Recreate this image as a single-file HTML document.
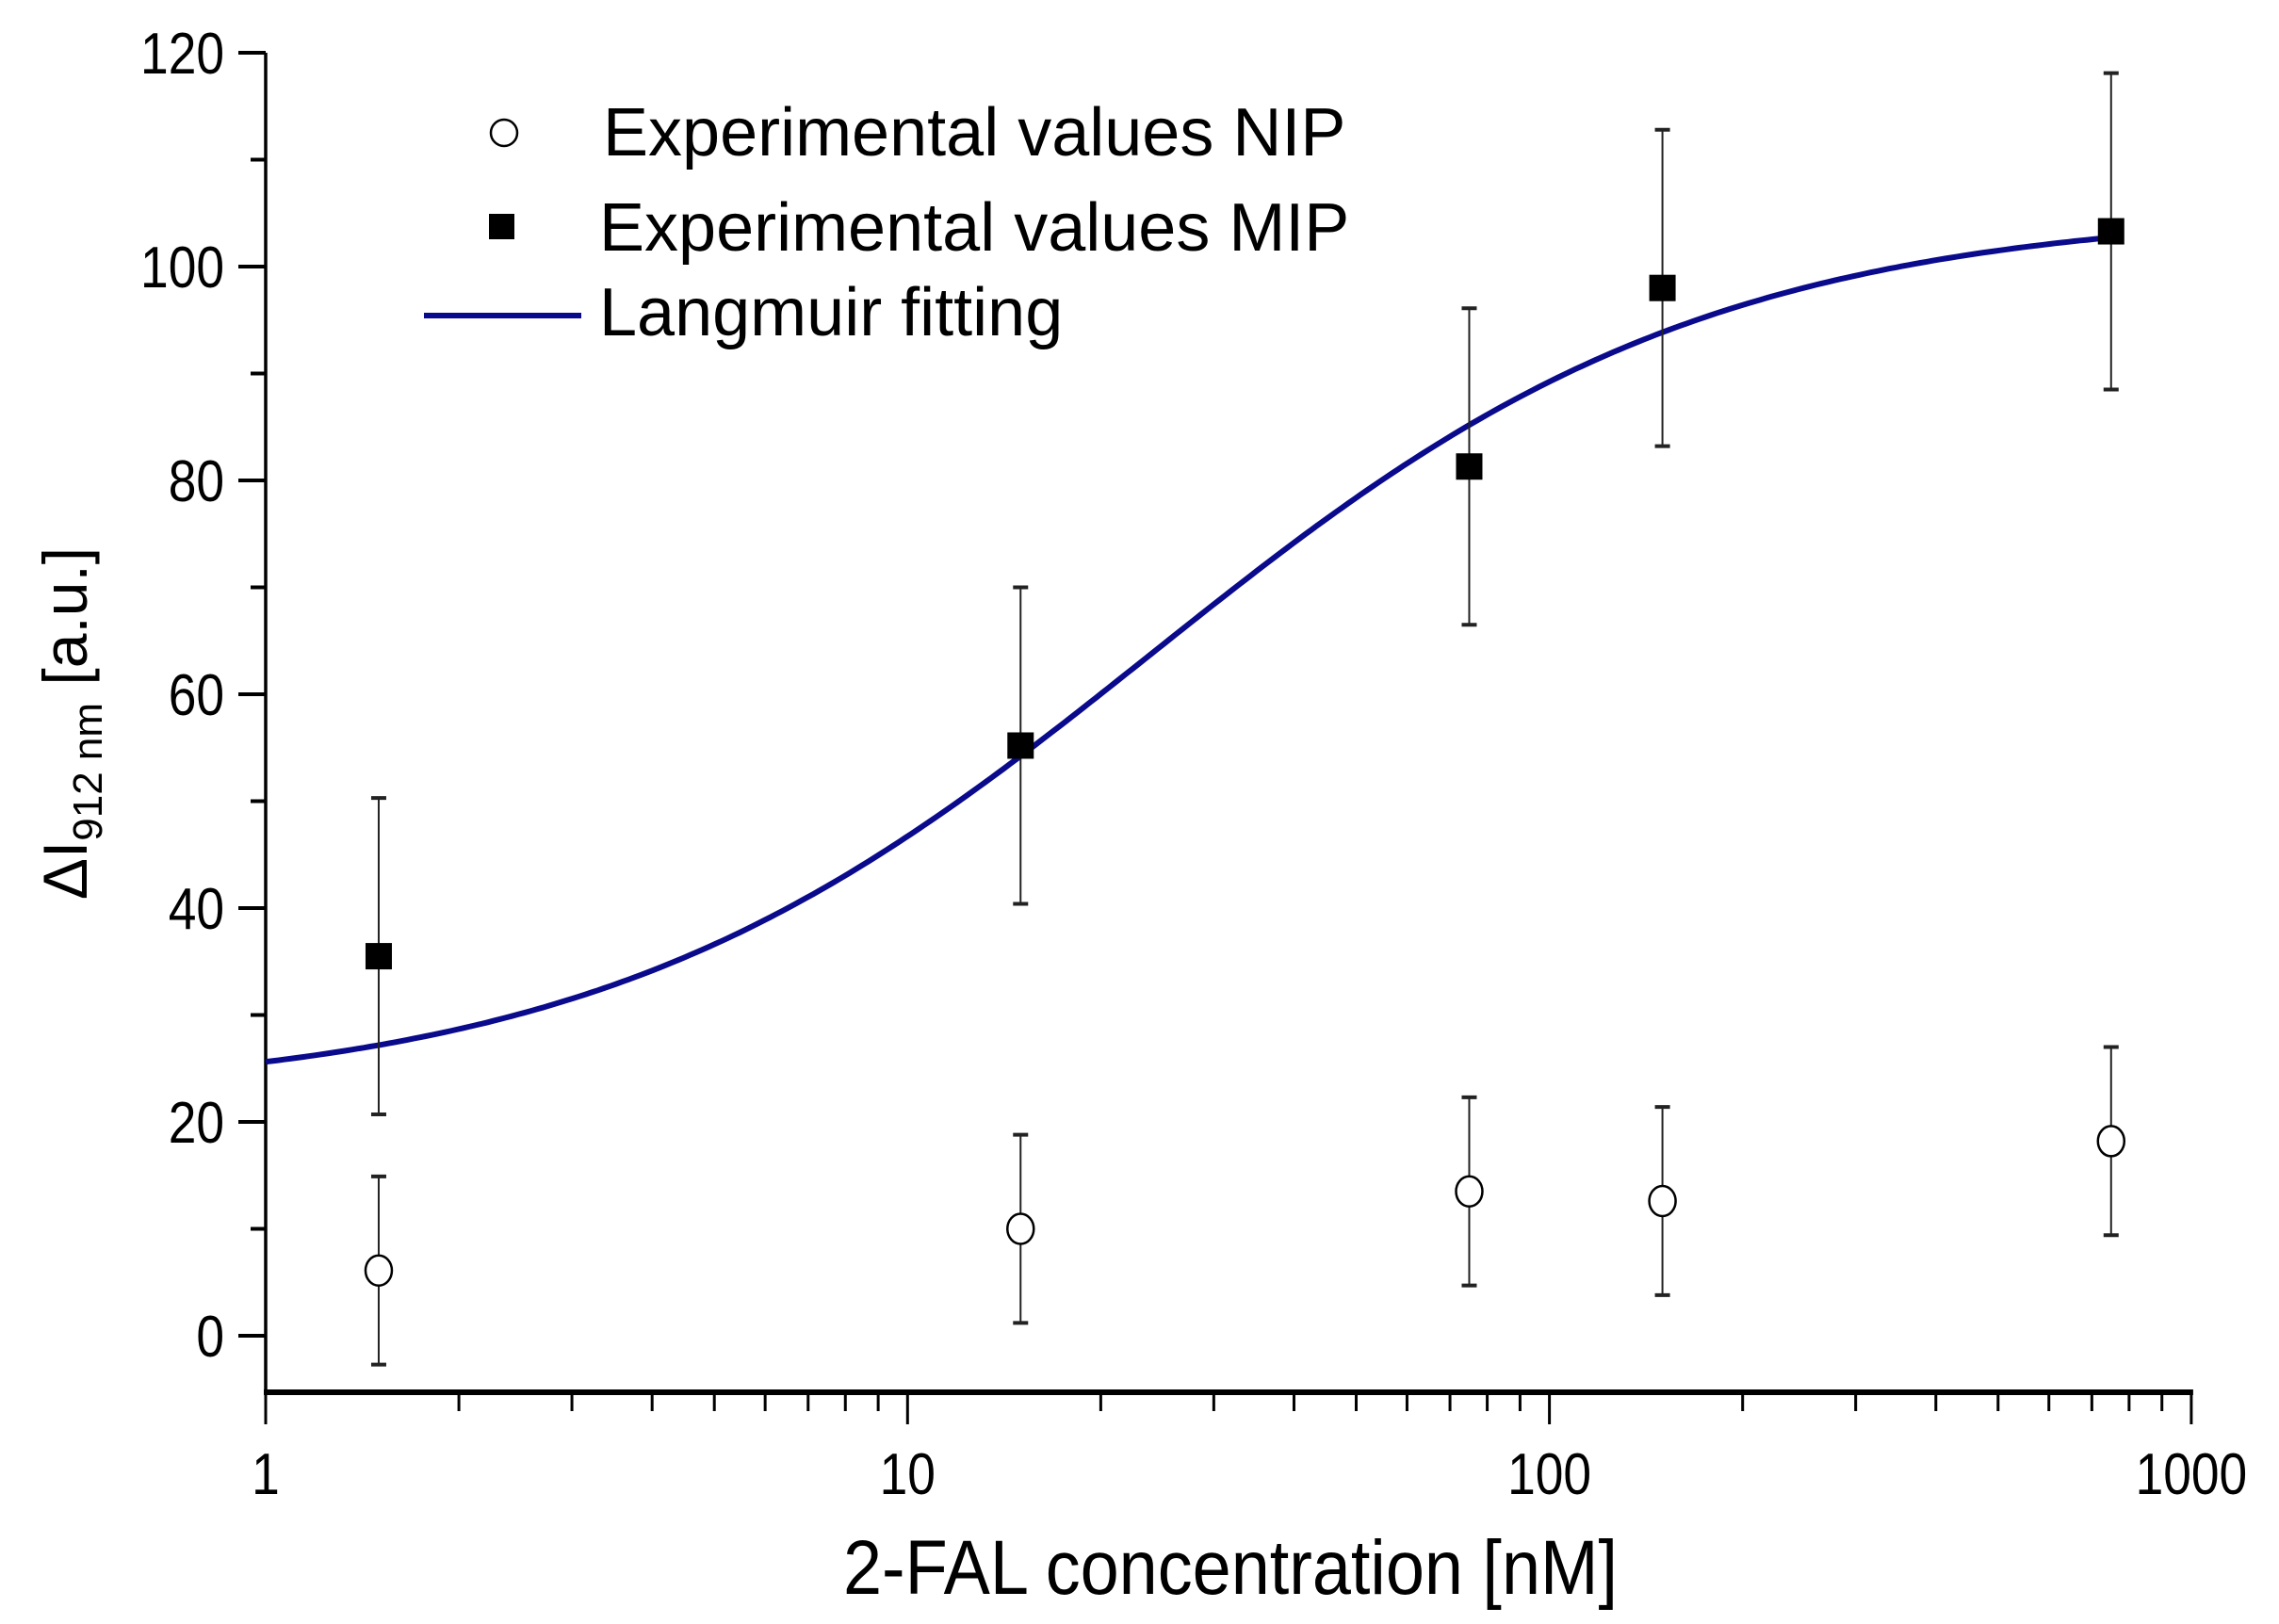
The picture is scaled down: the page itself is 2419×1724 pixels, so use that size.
<!DOCTYPE html>
<html><head><meta charset="utf-8"><style>
html,body{margin:0;padding:0;background:#fff}
svg{display:block}
text{font-family:"Liberation Sans",Arial,sans-serif;fill:#000}
</style></head><body>
<svg id="chart" width="2419" height="1724" viewBox="0 0 2419 1724">
<g id="axes"></g>
<g id="marks"></g>
<g id="legend">
  <circle cx="535" cy="141" r="14" fill="#fff" stroke="#000" stroke-width="2.5"/>
  <text x="640" y="165" font-size="72">Experimental values NIP</text>
  <rect x="519" y="227" width="27" height="27" fill="#000"/>
  <text x="636" y="266" font-size="72">Experimental values MIP</text>
  <line x1="450" y1="335" x2="617" y2="335" stroke="#0a0a8c" stroke-width="6"/>
  <text x="636" y="356" font-size="72">Langmuir fitting</text>
</g>
<text x="1306" y="1692" font-size="82" text-anchor="middle" textLength="822" lengthAdjust="spacingAndGlyphs">2-FAL concentration [nM]</text>
<text transform="translate(92,768) rotate(-90)" font-size="66" text-anchor="middle">ΔI<tspan font-size="44" dy="16">912 nm</tspan><tspan dy="-16"> [a.u.]</tspan></text>
</svg>
<script>
const xCats = [1.5, 15, 75, 150, 750];
const mipValues = [35.5, 55.2, 81.3, 98.0, 103.3];
const mipErrors = [14.8, 14.8, 14.8, 14.8, 14.8];
const nipValues = [6.1, 10.0, 13.5, 12.6, 18.2];
const nipErrors = [8.8, 8.8, 8.8, 8.8, 8.8];
const fitParams = [22.3, 83, 24];
const fitRange = [1, 750];
const yTicks = [0, 20, 40, 60, 80, 100, 120];
const xTicks = [1, 10, 100, 1000];

const NS = "http://www.w3.org/2000/svg";
const X0 = 282, DEC = 681.3, Y0 = 1418, YU = 227 / 20, XAXY = 1478, YTOP = 56;
function xs(v){ return X0 + Math.log10(v) * DEC; }
function ys(v){ return Y0 - v * YU; }
function mk(tag, attrs, parent){
  const e = document.createElementNS(NS, tag);
  for (const k in attrs) e.setAttribute(k, attrs[k]);
  parent.appendChild(e); return e;
}
const axes = document.getElementById('axes');
const marks = document.getElementById('marks');

let yl = mk('line', {x1:X0, y1:YTOP, x2:X0, y2:XAXY, stroke:'#000','stroke-width':3.5}, axes);


let xl = mk('line', {x1:X0-2, y1:XAXY, x2:xs(1000)+2, y2:XAXY, stroke:'#000','stroke-width':6}, axes);



for (let v = 0; v <= 120; v += 10) {
  const major = v % 20 === 0;
  const t = mk('line', {x1:X0 - (major?29:16), y1:ys(v), x2:X0, y2:ys(v), stroke:'#000','stroke-width':4}, axes);
  
  
}
yTicks.forEach(v => {
  const t = mk('text', {x:0, y:0, 'font-size':62, 'text-anchor':'end', transform:'translate(238,'+(ys(v)+22)+') scale(0.86,1)'}, axes);
  t.textContent = v;
  
  
});
for (let d = 0; d < 3; d++) {
  for (let m = 1; m <= 9; m++) {
    const v = Math.pow(10, d) * m;
    const t = mk('line', {x1:xs(v), y1:XAXY, x2:xs(v), y2:XAXY + (m===1?34:20), stroke:'#000','stroke-width':3}, axes);
    
    
  }
}
let lt = mk('line', {x1:xs(1000), y1:XAXY, x2:xs(1000), y2:XAXY+34, stroke:'#000','stroke-width':3}, axes);


xTicks.forEach(v => {
  const t = mk('text', {x:0, y:0, 'font-size':62, 'text-anchor':'middle', transform:'translate('+xs(v)+',1586) scale(0.86,1)'}, axes);
  t.textContent = v;
  
  
});

let d = '';
const l0 = Math.log10(fitRange[0]), l1 = Math.log10(fitRange[1]);
for (let i = 0; i <= 300; i++) {
  const v = Math.pow(10, l0 + (l1 - l0) * i / 300);
  const y = fitParams[0] + fitParams[1] * v / (fitParams[2] + v);
  d += (i ? 'L' : 'M') + xs(v).toFixed(1) + ' ' + ys(y).toFixed(1);
}
const fit = mk('path', {d:d, fill:'none', stroke:'#0a0a8c', 'stroke-width':6}, marks);



function errBar(x, v, e, name){
  const g = mk('g', {stroke:'#222','stroke-width':2}, marks);
  
  
  mk('line', {x1:xs(x), y1:ys(v+e), x2:xs(x), y2:ys(v-e)}, g);
  mk('line', {x1:xs(x)-8, y1:ys(v+e), x2:xs(x)+8, y2:ys(v+e), 'stroke-width':4}, g);
  mk('line', {x1:xs(x)-8, y1:ys(v-e), x2:xs(x)+8, y2:ys(v-e), 'stroke-width':4}, g);
}
xCats.forEach((x, i) => {
  errBar(x, nipValues[i], nipErrors[i], 'nip-error-bar');
  const c = mk('ellipse', {cx:xs(x), cy:ys(nipValues[i]), rx:14, ry:16, fill:'#fff', stroke:'#000','stroke-width':2.5}, marks);
  
  
  errBar(x, mipValues[i], mipErrors[i], 'mip-error-bar');
  const r = mk('rect', {x:xs(x)-14, y:ys(mipValues[i])-14, width:28, height:28, fill:'#000'}, marks);
  
  
});
</script>
</body></html>
